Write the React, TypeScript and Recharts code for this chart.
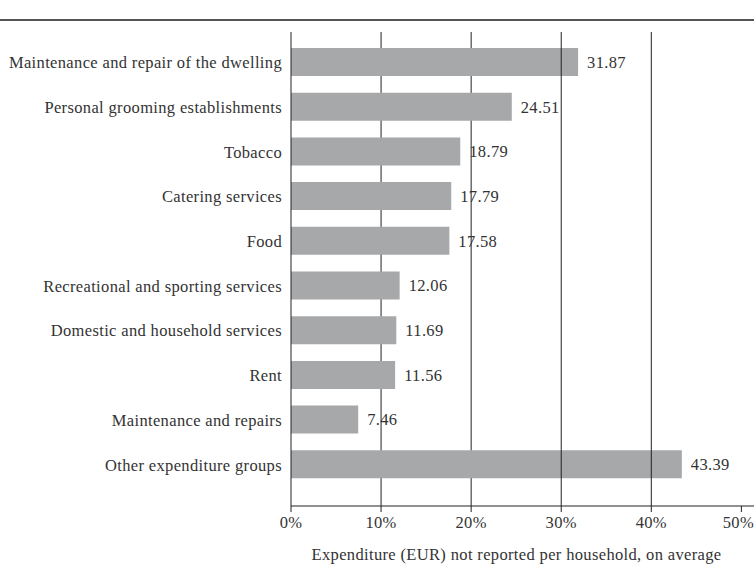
import React from "react";
import {Bar, BarChart, CartesianGrid, LabelList, ReferenceLine, XAxis, YAxis} from "recharts";

const categories = [
  "Maintenance and repair of the dwelling",
  "Personal grooming establishments",
  "Tobacco",
  "Catering services",
  "Food",
  "Recreational and sporting services",
  "Domestic and household services",
  "Rent",
  "Maintenance and repairs",
  "Other expenditure groups",
];
const values = [31.87, 24.51, 18.79, 17.79, 17.58, 12.06, 11.69, 11.56, 7.46, 43.39];
const xTicks = [0, 10, 20, 30, 40, 50];

const data = categories.map((name, i) => ({name, value: values[i]}));

const FONT = "'Liberation Serif', 'DejaVu Serif', serif";
const TEXT = "#333333";
const textStyle = {letterSpacing: "0.35px"};

export default function App() {
  return (
    <div style={{position: "absolute", left: 0, top: 0, width: 754, height: 578, background: "#fff", overflow: "hidden"}}>
      <div style={{position: "absolute", left: 0, top: 19, width: 754, height: 0, borderTop: "2px solid #555"}}/>
      <BarChart
        width={754}
        height={578}
        data={data}
        layout="vertical"
        margin={{top: 32, right: 0, bottom: 0, left: 0}}
        barSize={28}
        style={{overflow: "hidden"}}
      >
        <CartesianGrid horizontal={false} verticalValues={[10, 20]} stroke="#222" strokeWidth={1}/>
        <XAxis
          type="number"
          domain={[0, 51.4]}
          ticks={xTicks}
          tickFormatter={(v) => `${v}%`}
          axisLine={{stroke: "#222"}}
          tickLine={{stroke: "#222"}}
          tickSize={6}
          tickMargin={4}
          height={72}
          tick={{fill: TEXT, fontSize: 16.5, fontFamily: FONT, style: textStyle}}
          label={{
            value: "Expenditure (EUR) not reported per household, on average",
            position: "insideBottom",
            offset: 18,
            dx: -6,
            fill: TEXT,
            fontSize: 16.5,
            fontFamily: FONT,
            style: textStyle,
          }}
        />
        <YAxis
          type="category"
          dataKey="name"
          width={291}
          axisLine={{stroke: "#222"}}
          tickLine={false}
          tickSize={0}
          tickMargin={9}
          padding={{top: 8, bottom: 19}}
          interval={0}
          tick={{fill: TEXT, fontSize: 16.5, fontFamily: FONT, style: textStyle}}
        />
        <Bar dataKey="value" fill="#a7a8aa" isAnimationActive={false}>
          <LabelList
            dataKey="value"
            position="right"
            offset={9}
            fill={TEXT}
            fontSize={16.5}
            fontFamily={FONT}
            style={textStyle}
          />
        </Bar>
        <ReferenceLine x={30} stroke="#222" strokeWidth={1}/>
        <ReferenceLine x={40} stroke="#222" strokeWidth={1}/>
      </BarChart>
    </div>
  );
}
